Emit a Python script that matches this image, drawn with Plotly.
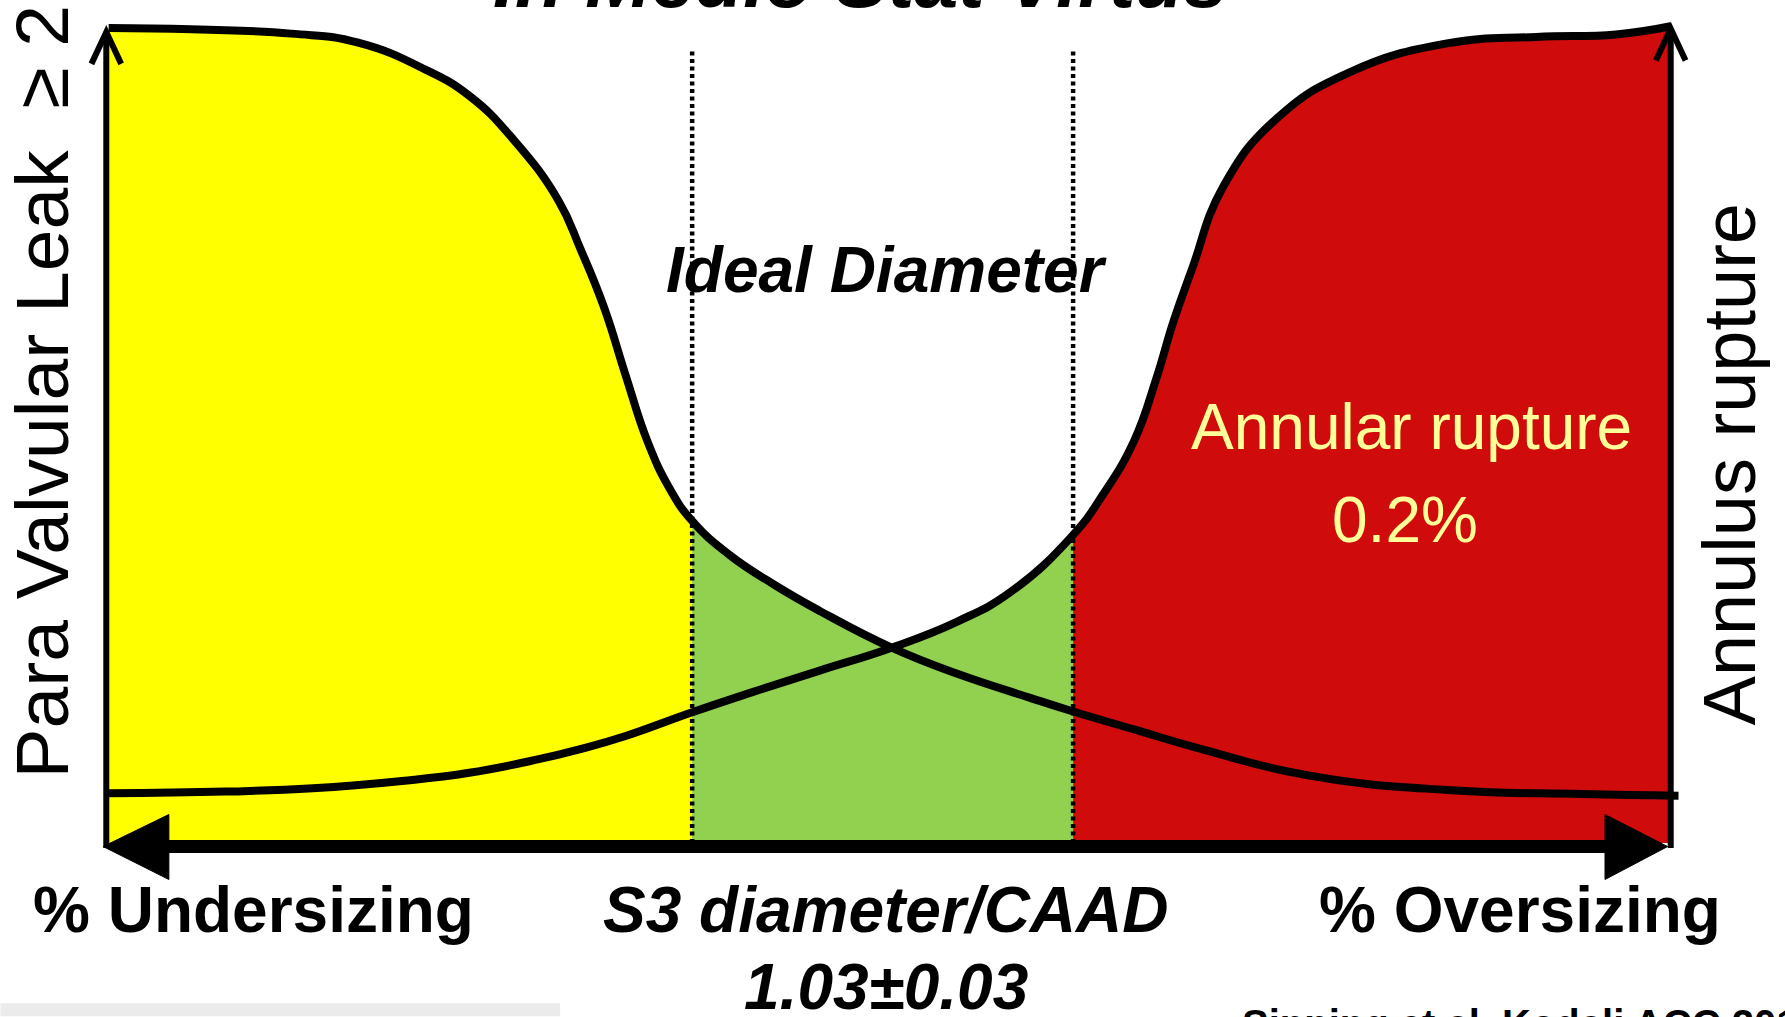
import plotly.graph_objects as go

# ---------------- data (x: sizing scale 0..100, y: risk 0..100) ----------------
pvl_x = [0.15, 11.8, 16.1, 20.4, 23.2, 26.0, 28.9, 30.3, 31.8, 33.2, 34.6, 36.0, 37.45,
         39.8, 42.7, 45.6, 50.2, 54.4, 59.0, 61.8, 65.7, 70.0, 77.1, 85.7, 94.3, 100.5]
pvl_y = [99.7, 99.0, 97.9, 94.6, 91.4, 86.1, 78.6, 72.7, 65.6, 57.2, 49.1, 43.4, 39.4,
         35.3, 31.6, 28.4, 23.9, 20.7, 17.8, 16.1, 13.9, 11.5, 8.2, 6.5, 6.0, 5.8]

ar_x = [0.15, 7.6, 13.2, 18.9, 23.2, 27.5, 30.3, 33.2, 37.45, 41.2, 45.6, 50.2,
        54.4, 57.8, 61.8, 63.7, 65.7, 67.1, 68.2, 69.4, 71.4, 74.8, 79.5, 85.7, 91.4, 96.5, 100.0]
ar_y = [6.1, 6.3, 6.7, 7.6, 8.6, 10.2, 11.5, 13.1, 16.0, 18.4, 21.1, 23.9,
        27.1, 30.7, 37.7, 42.6, 49.2, 56.7, 63.7, 70.2, 80.3, 88.6, 94.3, 97.8, 98.6, 98.9, 99.9]

ideal_low = 37.45     # left dotted boundary
ideal_high = 61.8     # right dotted boundary
crossing_x = 50.2     # where both curves meet
dotted_top = 96.8

# ---------------- layout geometry ----------------
W, H = 1785, 1017
X_RANGE = [-2, 102]
Y_RANGE = [-5, 102.5]
M_L, M_R, M_T, M_B = 74.6, 82.5, 4.5, 132.5
PW = W - M_L - M_R
PH = H - M_T - M_B
SMOOTH = 1.3


def px(xp):
    return (xp - M_L) / PW


def py(yp):
    return (H - M_B - yp) / PH


FONT = "Liberation Sans, Arial, sans-serif"
YELLOW = "#FFFF00"
GREEN = "#92D050"
RED = "#D00B0C"
PALE = "#FFFF99"


def subset(xs, ys, lo, hi):
    pts = [(x, y) for x, y in zip(xs, ys) if lo <= x <= hi]
    return [p[0] for p in pts], [p[1] for p in pts]


fig = go.Figure()

# zone fills (the two green parts overlap a little past the crossing so no seam shows)
for (xs, ys, lo, hi, col) in [
    (pvl_x, pvl_y, -1, ideal_low, YELLOW),
    (pvl_x, pvl_y, ideal_low, crossing_x + 4.5, GREEN),
    (ar_x, ar_y, crossing_x - 4.7, ideal_high, GREEN),
    (ar_x, ar_y, ideal_high, 101, RED),
]:
    fx, fy = subset(xs, ys, lo, hi)
    fig.add_trace(go.Scatter(x=fx, y=fy, mode="lines", fill="tozeroy", fillcolor=col,
                             line=dict(width=0, shape="spline", smoothing=SMOOTH, color=col),
                             hoverinfo="skip", showlegend=False))

# dotted boundaries
for xv in (ideal_low, ideal_high):
    fig.add_trace(go.Scatter(x=[xv, xv], y=[0, dotted_top], mode="lines",
                             line=dict(color="black", width=4.5, dash="4px,3.5px"),
                             hoverinfo="skip", showlegend=False))

# curves
fig.add_trace(go.Scatter(x=pvl_x, y=pvl_y, mode="lines", name="Para Valvular Leak",
                         line=dict(color="black", width=8, shape="spline", smoothing=SMOOTH),
                         showlegend=False))
fig.add_trace(go.Scatter(x=ar_x, y=ar_y, mode="lines", name="Annulus rupture",
                         line=dict(color="black", width=8, shape="spline", smoothing=SMOOTH),
                         showlegend=False))

# axes decorations
shapes = []
shapes.append(dict(type="line", x0=0, x1=0, y0=-0.6, y1=99.2, line=dict(color="black", width=6)))
shapes.append(dict(type="path", path="M -0.95,95.3 L 0,99.2 L 0.95,95.3",
                   line=dict(color="black", width=6)))
shapes.append(dict(type="line", x0=100, x1=100, y0=-0.6, y1=99.6, line=dict(color="black", width=6)))
shapes.append(dict(type="path", path="M 99.05,95.7 L 100,99.6 L 100.95,95.7",
                   line=dict(color="black", width=6)))
shapes.append(dict(type="line", x0=3.5, x1=96.5, y0=-0.42, y1=-0.42, line=dict(color="black", width=13)))
shapes.append(dict(type="path", path="M -0.2,-0.42 L 4.0,3.5 L 4.0,-4.45 Z",
                   fillcolor="black", line=dict(color="black", width=1)))
shapes.append(dict(type="path", path="M 99.8,-0.42 L 95.8,3.5 L 95.8,-4.45 Z",
                   fillcolor="black", line=dict(color="black", width=1)))
# slide shadow band at the bottom left
shapes.append(dict(type="rect", xref="paper", yref="paper", x0=px(0), x1=px(560),
                   y0=py(1017), y1=py(1004), fillcolor="#ebebeb", line=dict(width=0),
                   layer="below"))

ann = []


def add(text, x, y, size, color="black", xref="paper", yref="paper", angle=0,
        xanchor="center", yanchor="middle"):
    ann.append(dict(text=text, x=x, y=y, xref=xref, yref=yref, showarrow=False,
                    textangle=angle, xanchor=xanchor, yanchor=yanchor,
                    font=dict(family=FONT, size=size, color=color)))


add("<b><i>In Medio Stat Virtus</i></b>", px(860), py(6 + 0.25 * 79), 79, yanchor="bottom")
add("Para Valvular Leak  \u2265 2", px(42), py(391), 75, angle=-90)
add("Annulus rupture", px(1730), py(464), 74, angle=-90)
add("<b><i>Ideal Diameter</i></b>", 49.84, 70.1, 64, xref="x", yref="y")
add("Annular rupture", 83.4, 50.9, 64, color=PALE, xref="x", yref="y")
add("0.2%", 83.0, 39.5, 64, color=PALE, xref="x", yref="y")
add("<b>% Undersizing</b>", px(253), py(911), 64)
add("<b><i>S3 diameter/CAAD</i></b>", px(886), py(911), 64)
add("<b>% Oversizing</b>", px(1520), py(911), 64)
add("<b><i>1.03\u00b10.03</i></b>", px(886), py(988), 64)
add("<b>Sinning et al. Kodali ACC 2014</b>", px(1240), py(1001), 40, xanchor="left", yanchor="top")

fig.update_layout(
    width=W, height=H,
    margin=dict(l=M_L, r=M_R, t=M_T, b=M_B, autoexpand=False),
    paper_bgcolor="white", plot_bgcolor="white",
    xaxis=dict(range=X_RANGE, visible=False, fixedrange=True),
    yaxis=dict(range=Y_RANGE, visible=False, fixedrange=True),
    shapes=shapes, annotations=ann, showlegend=False,
)

fig.write_html("out.html", config={"displayModeBar": False},
               post_script="document.body.style.margin='0';document.body.style.overflow='hidden';")
